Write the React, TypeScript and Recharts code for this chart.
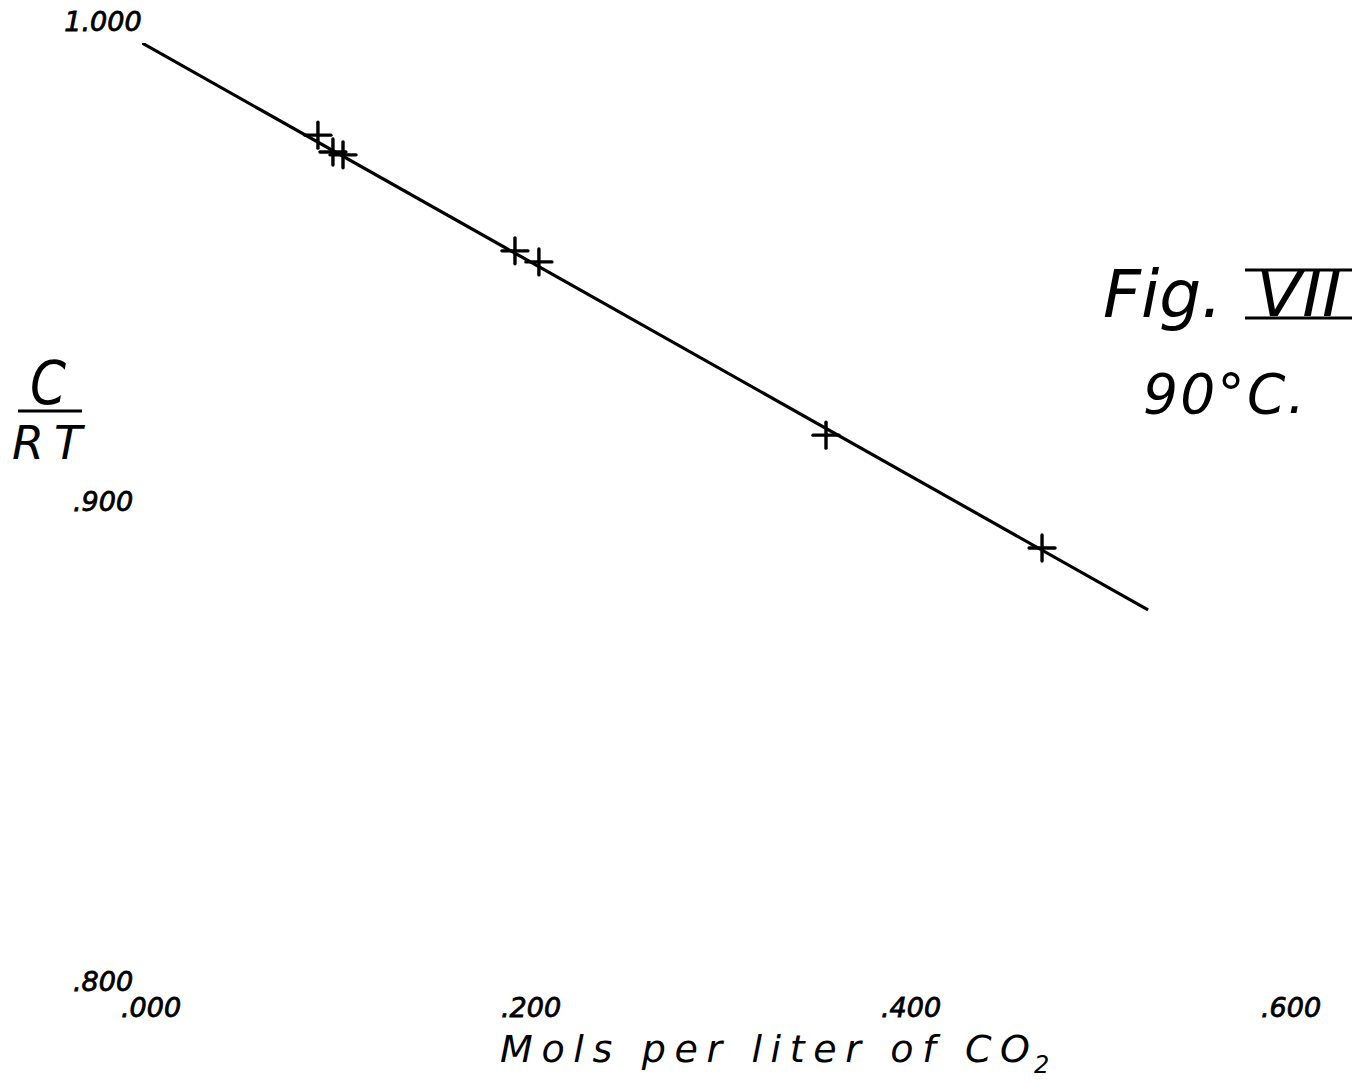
import React from 'react';
import { ComposedChart, XAxis, YAxis, Scatter } from 'recharts';

// Fitted straight line (end points of the drawn line)
const fitX = [0.0, 0.5295];
const fitY = [1.0, 0.8819];

// Observed points (plus markers)
const obsX = [0.0926, 0.1005, 0.1058, 0.1963, 0.2089, 0.36, 0.4737];
const obsY = [0.9808, 0.9773, 0.9767, 0.9567, 0.9544, 0.9183, 0.8948];

// Ticks and their labels
const xTicks = [0, 0.2, 0.4, 0.6];
const xTickLabels = ['.000', '.200', '.400', '.600'];
const yTicks = [0.8, 0.9, 1.0];
const yTickLabels = ['.800', '.900', '1.000'];

const fitData = fitX.map((x, i) => ({ x, y: fitY[i] }));
const obsData = obsX.map((x, i) => ({ x, y: obsY[i] }));

const FONT = '"DejaVu Sans", sans-serif';
const INK = '#000';

const PlusShape = (props: any) => {
  const { cx, cy } = props;
  if (cx == null || cy == null) return <g />;
  const a = 13;
  return (
    <g stroke={INK} strokeWidth={3.4} strokeLinecap="round">
      <line x1={cx - a} y1={cy} x2={cx + a} y2={cy} />
      <line x1={cx} y1={cy - a} x2={cx} y2={cy + a} />
    </g>
  );
};

const NoShape = () => <g />;

const labelFor = (ticks: number[], labels: string[], v: number) => {
  let idx = -1;
  ticks.forEach((t, i) => {
    if (Math.abs(t - v) < 1e-9) idx = i;
  });
  return idx >= 0 ? labels[idx] : '';
};

const renderXTick = (props: any) => {
  const { payload } = props;
  const x = props.x;
  const y = props.y;
  return (
    <text
      key={`xt-${payload.value}`}
      x={x + 9}
      y={y + 14}
      textAnchor="middle"
      fontFamily={FONT}
      fontStyle="italic"
      fontSize={27}
      fill={INK}
      stroke={INK}
      strokeWidth={0.8}
    >
      {labelFor(xTicks, xTickLabels, payload.value)}
    </text>
  );
};

const renderYTick = (props: any) => {
  const { payload } = props;
  const x = props.x;
  const y = props.y;
  return (
    <text
      key={`yt-${payload.value}`}
      x={x - 39}
      y={y - 12}
      textAnchor="middle"
      fontFamily={FONT}
      fontStyle="italic"
      fontSize={27}
      fill={INK}
      stroke={INK}
      strokeWidth={0.8}
    >
      {labelFor(yTicks, yTickLabels, payload.value)}
    </text>
  );
};

export default function App() {
  return (
    <div
      style={{
        position: 'absolute',
        left: 0,
        top: 0,
        width: 1365,
        height: 1084,
        background: '#fff',
        overflow: 'hidden',
      }}
    >
      <ComposedChart
        width={1365}
        height={1084}
        margin={{ top: 43, right: 83, bottom: 80, left: 141 }}
      >
        <XAxis
          type="number"
          dataKey="x"
          domain={[0, 0.6]}
          ticks={xTicks}
          axisLine={false}
          tickLine={false}
          tickSize={0}
          tickMargin={0}
          height={1}
          tick={renderXTick}
          interval={0}
          allowDataOverflow
        />
        <YAxis
          type="number"
          dataKey="y"
          domain={[0.8, 1.0]}
          ticks={yTicks}
          axisLine={false}
          tickLine={false}
          tickSize={0}
          tickMargin={0}
          width={1}
          tick={renderYTick}
          interval={0}
          allowDataOverflow
        />
        <Scatter
          data={fitData}
          line={{ stroke: INK, strokeWidth: 3.2 }}
          shape={<NoShape />}
          isAnimationActive={false}
        />
        <Scatter data={obsData} shape={<PlusShape />} isAnimationActive={false} />
      </ComposedChart>

      <svg
        width={1365}
        height={1084}
        style={{ position: 'absolute', left: 0, top: 0, pointerEvents: 'none' }}
      >
        {/* Fig. VII */}
        <text x={1103} y={317} fontFamily={FONT} fontStyle="italic" fontSize={66} fill={INK}>
          Fig.
        </text>
        <text
          x={1256}
          y={316}
          fontFamily={FONT}
          fontStyle="italic"
          fontSize={64}
          fill={INK}
          textLength={86}
          lengthAdjust="spacingAndGlyphs"
        >
          VII
        </text>
        <line x1={1245} y1={270} x2={1352} y2={270} stroke={INK} strokeWidth={3} />
        <line x1={1245} y1={318} x2={1352} y2={318} stroke={INK} strokeWidth={3} />

        {/* 90°C. */}
        <text
          x={1143}
          y={413}
          fontFamily={FONT}
          fontStyle="italic"
          fontSize={55}
          fill={INK}
          textLength={162}
          lengthAdjust="spacing"
        >
          90°C.
        </text>

        {/* C / RT */}
        <text
          x={30}
          y={404}
          fontFamily={FONT}
          fontStyle="italic"
          fontSize={60}
          fill={INK}
          textLength={36}
          lengthAdjust="spacingAndGlyphs"
        >
          C
        </text>
        <line x1={18} y1={411} x2={82} y2={411} stroke={INK} strokeWidth={3} />
        <text
          x={12}
          y={459}
          fontFamily={FONT}
          fontStyle="italic"
          fontSize={46}
          fill={INK}
          textLength={70}
          lengthAdjust="spacing"
        >
          RT
        </text>

        {/* x-axis title */}
        <text
          x={500}
          y={1062}
          fontFamily={FONT}
          fontStyle="italic"
          fontSize={38}
          fill={INK}
          textLength={530}
          lengthAdjust="spacing"
        >
          Mols per liter of CO
        </text>
        <text x={1034} y={1073} fontFamily={FONT} fontStyle="italic" fontSize={24} fill={INK}>
          2
        </text>
      </svg>
    </div>
  );
}
